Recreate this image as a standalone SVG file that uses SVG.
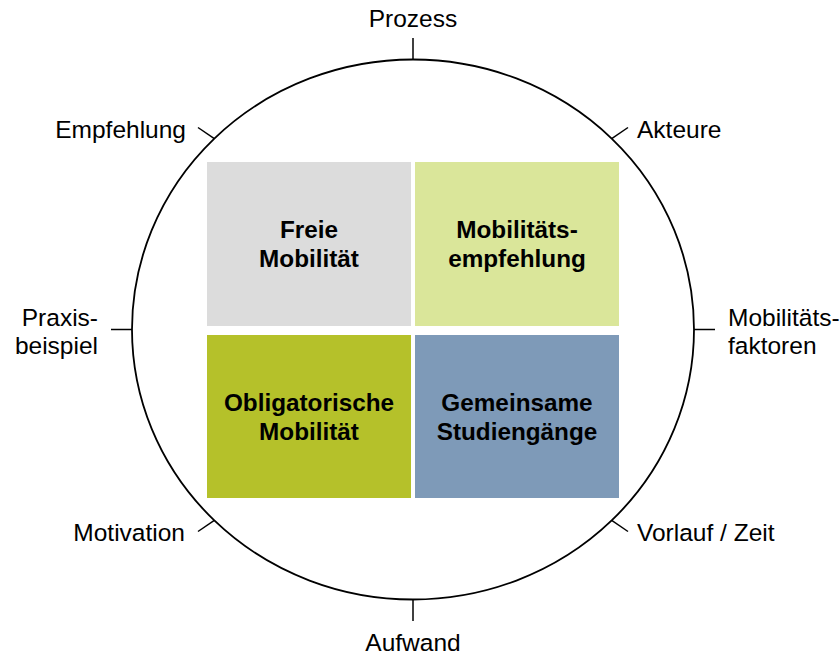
<svg xmlns="http://www.w3.org/2000/svg" width="840" height="655" viewBox="0 0 840 655">
<style>
.lbl{font-family:"Liberation Sans",Arial,sans-serif;font-size:24.5px;fill:#000}
.box{font-family:"Liberation Sans",Arial,sans-serif;font-size:24.3px;font-weight:bold;fill:#000;text-anchor:middle}
.tick{stroke:#000;stroke-width:1.5;fill:none}
</style>
<rect width="840" height="655" fill="#fff"/>
<g id="ring">
<ellipse cx="413" cy="329.5" rx="281" ry="270" fill="none" stroke="#000" stroke-width="1.8"/>
</g>
<g id="connectors">
<line class="tick" x1="413" y1="59.5" x2="413" y2="38"/>
<line class="tick" x1="413" y1="599.5" x2="413" y2="621"/>
<line class="tick" x1="132" y1="329.5" x2="111" y2="329.5"/>
<line class="tick" x1="694" y1="329.5" x2="715" y2="329.5"/>
<line class="tick" x1="214.3" y1="138.6" x2="198" y2="127.5"/>
<line class="tick" x1="611.7" y1="138.6" x2="628" y2="127.5"/>
<line class="tick" x1="214.3" y1="520.4" x2="198" y2="531.5"/>
<line class="tick" x1="611.7" y1="520.4" x2="628" y2="531.5"/>
</g>
<g id="freie">
<rect x="207" y="162" width="204" height="164" fill="#DCDCDC"/>
<text class="box" x="309" y="238">Freie</text>
<text class="box" x="309" y="267">Mobilität</text>
</g>
<g id="empfehlung-box">
<rect x="415" y="162" width="204" height="164" fill="#DAE69A"/>
<text class="box" x="517" y="238">Mobilitäts-</text>
<text class="box" x="517" y="267">empfehlung</text>
</g>
<g id="obligatorisch">
<rect x="207" y="335" width="204" height="163" fill="#B5C12A"/>
<text class="box" x="309" y="411">Obligatorische</text>
<text class="box" x="309" y="440">Mobilität</text>
</g>
<g id="gemeinsam">
<rect x="415" y="335" width="204" height="163" fill="#7E9AB8"/>
<text class="box" x="517" y="411">Gemeinsame</text>
<text class="box" x="517" y="440">Studiengänge</text>
</g>
<g id="label-prozess"><text class="lbl" x="413" y="27" text-anchor="middle">Prozess</text></g>
<g id="label-aufwand"><text class="lbl" x="413" y="651" text-anchor="middle">Aufwand</text></g>
<g id="label-empfehlung"><text class="lbl" x="186" y="138" text-anchor="end">Empfehlung</text></g>
<g id="label-akteure"><text class="lbl" x="637" y="138">Akteure</text></g>
<g id="label-praxis"><text class="lbl" x="98" y="326" text-anchor="end">Praxis-</text><text class="lbl" x="98" y="354" text-anchor="end">beispiel</text></g>
<g id="label-faktoren"><text class="lbl" x="728" y="326">Mobilitäts-</text><text class="lbl" x="728" y="354">faktoren</text></g>
<g id="label-motivation"><text class="lbl" x="185" y="541" text-anchor="end">Motivation</text></g>
<g id="label-vorlauf"><text class="lbl" x="637" y="541">Vorlauf / Zeit</text></g>
</svg>
